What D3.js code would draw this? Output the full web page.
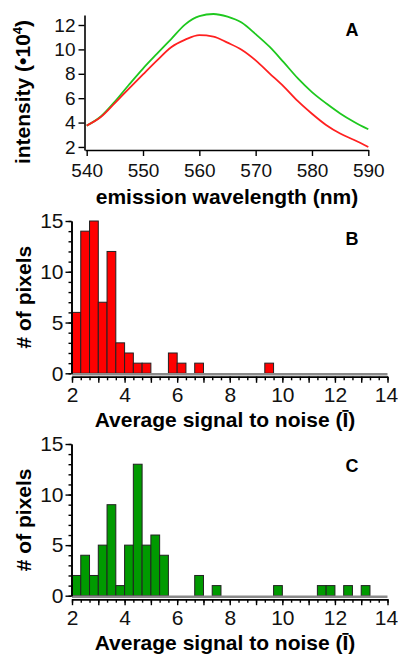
<!DOCTYPE html>
<html>
<head>
<meta charset="utf-8">
<script src="https://cdn.jsdelivr.net/npm/d3@7"></script>
<style>
  body { margin: 0; background: #fff; }
  text { font-family: "Liberation Sans", Arial, sans-serif; }
</style>
</head>
<body>
<svg id="chart" width="398" height="654"></svg>
<script>
// panel A: emission spectra
const wavelengths = [540, 542.5, 545, 547.5, 550, 552.5, 555, 557.5, 560, 562.5, 565,
  567.5, 570, 572.5, 575, 577.5, 580, 582.5, 585, 587.5, 590];
const intensityRed = [3.75, 4.45, 5.6, 6.78, 7.95, 9.1, 10.18, 10.8, 11.17, 11.05, 10.55,
  9.97, 9.1, 8.02, 6.95, 5.75, 4.72, 3.8, 3.1, 2.57, 2.0];
const intensityGreen = [3.75, 4.5, 5.72, 7.1, 8.43, 9.65, 10.85, 12.05, 12.72, 12.9, 12.68,
  12.2, 11.25, 10.2, 8.93, 7.62, 6.5, 5.58, 4.75, 4.05, 3.45];
const wavelengthTicks = [540, 550, 560, 570, 580, 590];
const intensityTicks = [2, 4, 6, 8, 10, 12];

// panels B and C: histograms, bins of width 1/3
const snrBinWidth = 1 / 3;
const binStartsB = [2, 2.333, 2.667, 3, 3.333, 3.667, 4, 4.333, 4.667, 5.667, 6, 6.667, 9.333];
const countsB = [6, 14, 15, 7, 12, 3, 2, 1, 1, 2, 1, 1, 1];
const binStartsC = [2, 2.333, 2.667, 3, 3.333, 3.667, 4, 4.333, 4.667, 5, 5.333,
  6.667, 7.333, 9.667, 11.333, 11.667, 12.333, 13];
const countsC = [2, 4, 2, 5, 9, 1, 5, 13, 5, 6, 4, 2, 1, 1, 1, 1, 1, 1];
const snrTicks = [2, 4, 6, 8, 10, 12, 14];
const countTicks = [0, 5, 10, 15];

const svg = d3.select('#chart');
const fontFamily = '"Liberation Sans", Arial, sans-serif';

function styleAxis(g, fontSize) {
  g.attr('font-family', fontFamily).attr('font-size', fontSize);
  g.selectAll('.domain').attr('stroke', '#000').attr('stroke-width', 1.6);
  g.selectAll('.tick line').attr('stroke', '#000').attr('stroke-width', 1.4);
  g.selectAll('.tick text').attr('fill', '#111');
}

// ---------- panel A ----------
const xA = d3.scaleLinear().domain([539.7, 590]).range([85, 368.3]);
const yA = d3.scaleLinear().domain([1.75, 12.82]).range([150, 15]);

const lineA = d3.line()
  .x((d, i) => xA(wavelengths[i]))
  .y(d => yA(d))
  .curve(d3.curveMonotoneX);

svg.append('path')
  .attr('d', lineA(intensityGreen))
  .attr('fill', 'none')
  .attr('stroke', '#1ec81e')
  .attr('stroke-width', 1.8);

svg.append('path')
  .attr('d', lineA(intensityRed))
  .attr('fill', 'none')
  .attr('stroke', '#ff2020')
  .attr('stroke-width', 1.8);

const yAxisA = svg.append('g')
  .attr('transform', 'translate(84.5,0)')
  .call(d3.axisLeft(yA).tickValues(intensityTicks).tickSize(6).tickSizeOuter(0).tickPadding(3));
styleAxis(yAxisA, 19);

const xAxisA = svg.append('g')
  .attr('transform', 'translate(0,150)')
  .call(d3.axisBottom(xA).tickValues(wavelengthTicks).tickSize(6).tickSizeOuter(0));
styleAxis(xAxisA, 19);
xAxisA.selectAll('.tick text').attr('y', 27).attr('dy', 0);

svg.append('text')
  .attr('transform', 'translate(30,92) rotate(-90)')
  .attr('text-anchor', 'middle')
  .attr('font-size', 21)
  .attr('font-weight', 'bold')
  .text('intensity (•10')
  .append('tspan').attr('font-size', 13).attr('dy', -8).text('4')
  .select(function () { return this.parentNode; })
  .append('tspan').attr('dy', 8).text(')');

svg.append('text')
  .attr('x', 227).attr('y', 204)
  .attr('text-anchor', 'middle')
  .attr('font-size', 21)
  .attr('font-weight', 'bold')
  .text('emission wavelength (nm)');

svg.append('text')
  .attr('x', 352).attr('y', 36)
  .attr('text-anchor', 'middle')
  .attr('font-size', 18)
  .attr('font-weight', 'bold')
  .text('A');

// ---------- panels B and C ----------
function histogram(binStarts, counts, y0, y15, fill, letter, letterY) {
  const x = d3.scaleLinear().domain([2, 14]).range([72, 387.5]);
  const y = d3.scaleLinear().domain([0, 15]).range([y0, y15]);

  svg.append('g')
    .selectAll('rect')
    .data(counts)
    .join('rect')
    .attr('x', (d, i) => x(binStarts[i]))
    .attr('width', x(2 + snrBinWidth) - x(2))
    .attr('y', d => y(d))
    .attr('height', d => y(0) - y(d))
    .attr('fill', fill)
    .attr('stroke', '#222')
    .attr('stroke-width', 1);

  // gray baseline under the bars
  svg.append('line')
    .attr('x1', x(2)).attr('x2', x(14))
    .attr('y1', y(0) + 1).attr('y2', y(0) + 1)
    .attr('stroke', '#8a8a8a')
    .attr('stroke-width', 2.4);

  // y axis: minor ticks every 1, major every 5
  svg.append('g')
    .attr('transform', 'translate(71.5,0)')
    .call(d3.axisLeft(y).tickValues(d3.range(0, 16)).tickSize(3).tickSizeOuter(0).tickFormat(''))
    .call(g => styleAxis(g, 20));
  const yAxis = svg.append('g')
    .attr('transform', 'translate(71.5,0)')
    .call(d3.axisLeft(y).tickValues(countTicks).tickSize(6).tickSizeOuter(0).tickPadding(2));
  styleAxis(yAxis, 21);

  // x axis sits a little below the baseline
  const axisY = y(0) + 3.5;
  svg.append('g')
    .attr('transform', `translate(0,${axisY})`)
    .call(d3.axisBottom(x).tickValues(d3.range(2, 14.01, snrBinWidth)).tickSize(3.5).tickSizeOuter(0).tickFormat(''))
    .call(g => styleAxis(g, 20));
  const xAxis = svg.append('g')
    .attr('transform', `translate(0,${axisY})`)
    .call(d3.axisBottom(x).tickValues(d3.range(2, 15, 1)).tickSize(6).tickSizeOuter(0)
      .tickFormat(d => (snrTicks.includes(d) ? d : '')));
  styleAxis(xAxis, 21);
  xAxis.selectAll('.tick text').attr('y', 25.5).attr('dy', 0)
    .attr('x', d => (d === 14 ? -1.5 : 0));

  svg.append('text')
    .attr('transform', `translate(31,${(y0 + y15) / 2}) rotate(-90)`)
    .attr('text-anchor', 'middle')
    .attr('font-size', 21)
    .attr('font-weight', 'bold')
    .text('# of pixels');

  svg.append('text')
    .attr('x', 225).attr('y', y0 + 54)
    .attr('text-anchor', 'middle')
    .attr('font-size', 21)
    .attr('font-weight', 'bold')
    .text('Average signal to noise (Ī)');

  svg.append('text')
    .attr('x', 352).attr('y', letterY)
    .attr('text-anchor', 'middle')
    .attr('font-size', 18)
    .attr('font-weight', 'bold')
    .text(letter);
}

histogram(binStartsB, countsB, 373.3, 221, '#ff0000', 'B', 245);
histogram(binStartsC, countsC, 595.7, 444, '#009a00', 'C', 472);
</script>
</body>
</html>
